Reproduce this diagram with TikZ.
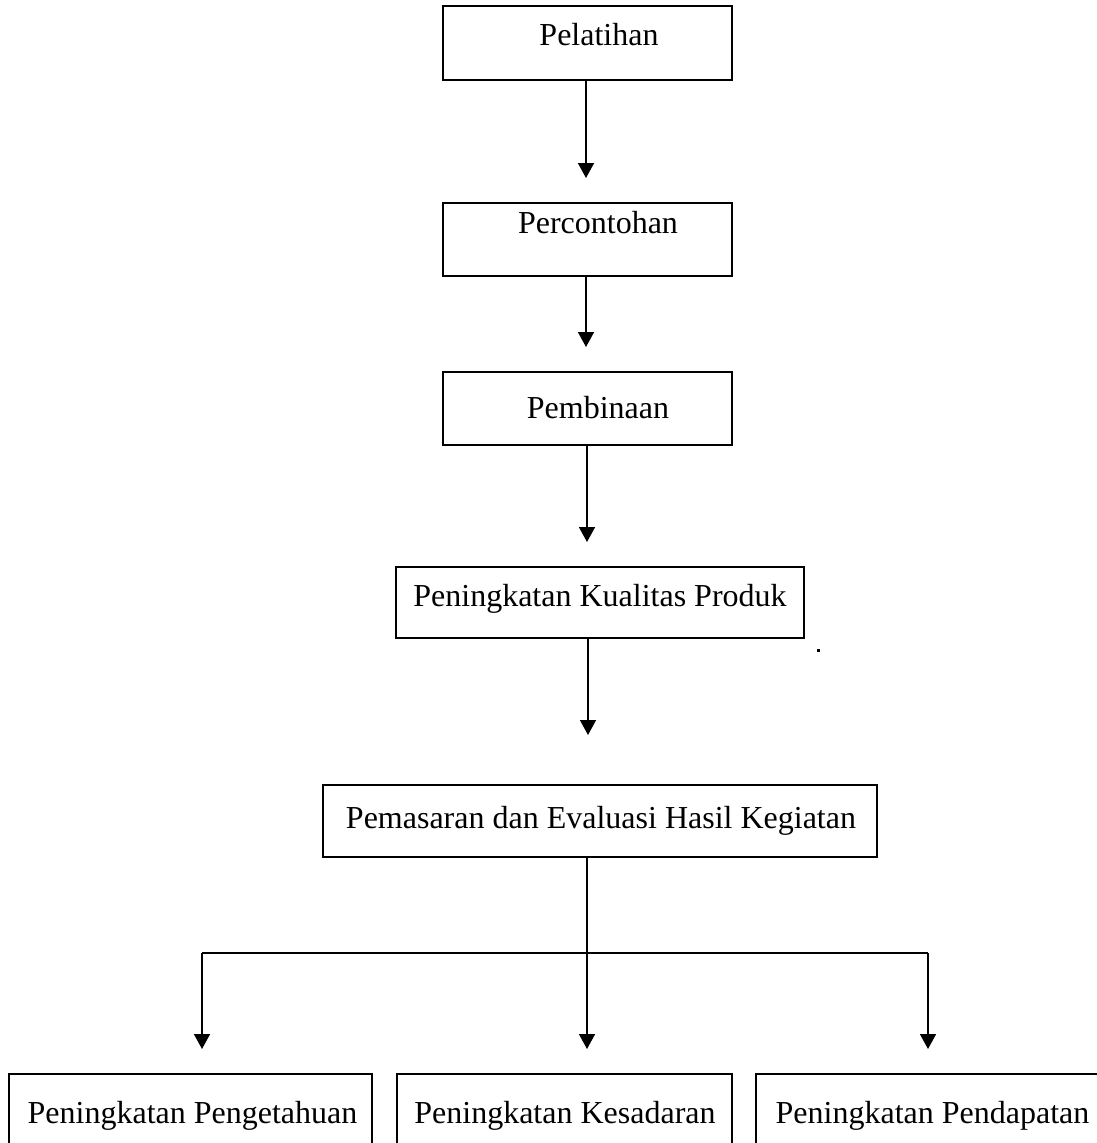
\documentclass[tikz,border=0pt]{standalone}
\usepackage{fontspec}
\setmainfont{Liberation Serif}
\usetikzlibrary{arrows.meta}
\tikzset{
  boxnode/.style={draw, line width=1.7pt, inner sep=0pt},
  lbl/.style={anchor=base, inner sep=0pt, font=\fontsize{32}{38}\selectfont},
  conn/.style={line width=1.6pt},
  arr/.style={line width=1.6pt, -{Triangle[width=16pt,length=15pt]}}
}
\begin{document}
\begin{tikzpicture}[x=1pt,y=-1pt]
\useasboundingbox (0,0) rectangle (1097,1143);
\clip (0,0) rectangle (1097,1143);
% boxes
\node[boxnode, minimum width=289pt, minimum height=74pt] (b1) at (587.5,43) {};
\node[boxnode, minimum width=289pt, minimum height=73pt] (b2) at (587.5,239.5) {};
\node[boxnode, minimum width=289pt, minimum height=73pt] (b3) at (587.5,408.5) {};
\node[boxnode, minimum width=408pt, minimum height=71pt] (b4) at (600,602.5) {};
\node[boxnode, minimum width=554pt, minimum height=72pt] (b5) at (600,821) {};
\node[boxnode, minimum width=363pt, minimum height=96pt] (ba) at (190.5,1122) {};
\node[boxnode, minimum width=335pt, minimum height=96pt] (bb) at (564.5,1122) {};
\node[boxnode, minimum width=354pt, minimum height=96pt] (bc) at (933,1122) {};
% labels
\node[lbl] (t1) at (599,45) {Pelatihan};
\node[lbl] (t2) at (598,233) {Percontohan};
\node[lbl] (t3) at (598,418) {Pembinaan};
\node[lbl] (t4) at (600,606) {Peningkatan Kualitas Produk};
\node[lbl] (t5) at (601,828) {Pemasaran dan Evaluasi Hasil Kegiatan};
\node[lbl] (ta) at (192.5,1123) {Peningkatan Pengetahuan};
\node[lbl] (tb) at (565,1123) {Peningkatan Kesadaran};
\node[lbl] (tc) at (932.5,1123) {Peningkatan Pendapatan};
% free ends of connectors
\coordinate (a1) at (586,178);
\coordinate (a2) at (586,347);
\coordinate (a3) at (587,542);
\coordinate (a4) at (588,735);
\coordinate (jc) at (587,953);
\coordinate (jl) at (202,953);
\coordinate (jr) at (928,953);
\coordinate (tl) at (202,1049);
\coordinate (tm) at (587,1049);
\coordinate (tr) at (928,1049);
% connectors
\draw[arr] (b1.south -| a1) -- (a1);
\draw[arr] (b2.south -| a2) -- (a2);
\draw[arr] (b3.south -| a3) -- (a3);
\draw[arr] (b4.south -| a4) -- (a4);
\draw[arr] (b5.south -| tm) -- (tm);
\draw[conn, line join=miter] (jl) -- (jr);
\draw[arr] (jl) -- (tl);
\draw[arr] (jr) -- (tr);
% small speck beside box 4
\fill (817,649) rectangle (820,651.5);
\end{tikzpicture}
\end{document}
